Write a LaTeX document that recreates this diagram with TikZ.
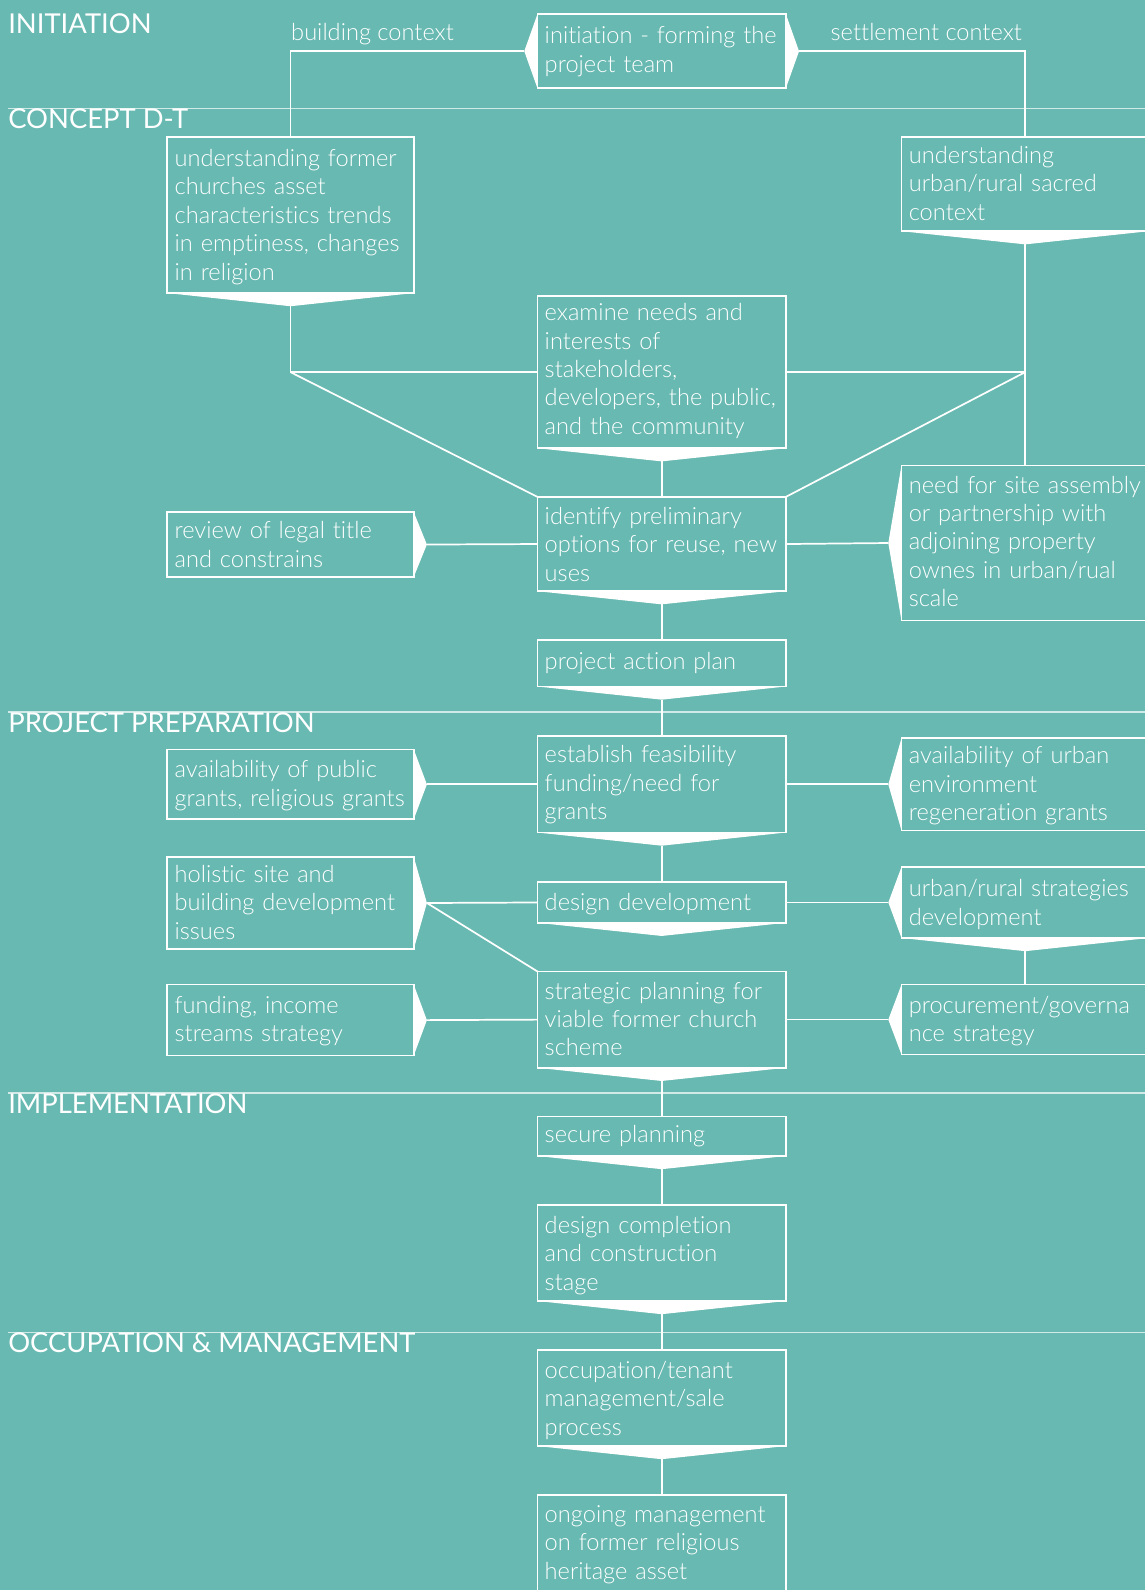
\documentclass[tikz,border=0pt]{standalone}
\usepackage{fontspec}
\setmainfont{Lato Light}[Ligatures={NoCommon,NoRequired,NoContextual}]
\newfontfamily\headfont{Lato}[Ligatures={NoCommon,NoRequired,NoContextual}]
\usetikzlibrary{calc}
\definecolor{bg}{RGB}{103,185,177}
\tikzset{
  stagebox/.style={draw=white, line width=1.7pt, outer sep=0pt, inner sep=0pt, anchor=north west},
  stagetext/.style={text=white, inner sep=0pt, anchor=north west, align=left, text width=260pt,
    font=\fontsize{23.3}{28}\selectfont},
  headtext/.style={text=white, inner sep=0pt, anchor=base west, font=\headfont\fontsize{27}{31}\selectfont},
  ctxlabel/.style={text=white, inner sep=0pt, anchor=base west, font=\fontsize{23.3}{28}\selectfont},
  conn/.style={draw=white, line width=1.7pt},
  sepline/.style={draw=white, draw opacity=0.7, line width=1.3pt}
}
% name, x, y, w, h, first baseline, text
\newcommand{\stage}[7]{%
  \node[stagebox, minimum width=#4pt, minimum height=#5pt] (#1) at (#2,#3) {};
  \node[stagetext] (#1-t) at (#2+7,#6-17.6) {\strut#7};
}
\newcommand{\tipS}[1]{\coordinate (#1-b) at ($(#1.south)+(0,13)$);
  \fill[white] (#1.south west) -- (#1-b) -- (#1.south east) -- cycle;}
\newcommand{\tipE}[1]{\coordinate (#1-r) at ($(#1.east)+(13,0)$);
  \fill[white] (#1.north east) -- (#1-r) -- (#1.south east) -- cycle;}
\newcommand{\tipW}[1]{\coordinate (#1-l) at ($(#1.west)+(-13,0)$);
  \fill[white] (#1.north west) -- (#1-l) -- (#1.south west) -- cycle;}
\begin{document}
\begin{tikzpicture}[x=1pt,y=-1pt]
\useasboundingbox (0,0) rectangle (1129,1568);
\clip (0,0) rectangle (1129,1568);
\fill[bg] (0,0) rectangle (1129,1568);

% section separators
\coordinate (s1a) at (8,107);   \coordinate (s1b) at (1129,107);
\coordinate (s2a) at (8,702);   \coordinate (s2b) at (1129,702);
\coordinate (s3a) at (8,1078);  \coordinate (s3b) at (1129,1078);
\coordinate (s4a) at (8,1314);  \coordinate (s4b) at (1129,1314);
\draw[sepline] (s1a) -- (s1b);
\draw[sepline] (s2a) -- (s2b);
\draw[sepline] (s3a) -- (s3b);
\draw[sepline] (s4a) -- (s4b);

% section titles
\node[headtext] (h1) at (8,33) {INITIATION};
\node[headtext] (h2) at (8,127) {CONCEPT D-T};
\node[headtext] (h3) at (8,722) {PROJECT PREPARATION};
\node[headtext] (h4) at (8,1098) {IMPLEMENTATION};
\node[headtext] (h5) at (8,1334) {OCCUPATION \& MANAGEMENT};

% stages
\stage{init}{530}{14}{245}{73}{41}{initiation - forming the\\project team}
\stage{uf}{165}{135}{243}{154}{162}{understanding former\\churches asset\\characteristics trends\\in emptiness, changes\\in religion}
\stage{uu}{889}{135}{244}{93}{159}{understanding\\urban/rural sacred\\context}
\stage{ex}{530}{292}{245}{150}{314}{examine needs and\\interests of\\stakeholders,\\developers, the public,\\and the community}
\stage{id}{530}{490}{245}{93}{515}{identify preliminary\\options for reuse, new\\uses}
\stage{rv}{165}{505}{243}{64}{529}{review of legal title\\and constrains}
\stage{ns}{889}{459}{244}{153}{484}{need for site assembly\\or partnership with\\adjoining property\\ownes in urban/rual\\scale}
\stage{pa}{530}{631}{245}{46}{658}{project action plan}
\stage{ef}{530}{726}{245}{95}{750}{establish feasibility\\funding/need for\\grants}
\stage{ap}{165}{739}{243}{69}{765}{availability of public\\grants, religious grants}
\stage{au}{889}{728}{244}{91}{751}{availability of urban\\environment\\regeneration grants}
\stage{dd}{530}{870}{245}{40}{896}{design development}
\stage{hs}{165}{845}{243}{91}{868}{holistic site and\\building development\\issues}
\stage{ur}{889}{855}{244}{70}{882}{urban/rural strategies\\development}
\stage{sp}{530}{958}{245}{95}{983}{strategic planning for\\viable former church\\scheme}
\stage{fi}{165}{971}{243}{70}{997}{funding, income\\streams strategy}
\stage{pg}{889}{971}{244}{69}{997}{procurement/governa\\nce strategy}
\stage{sc}{530}{1101}{245}{39}{1124}{secure planning}
\stage{dc}{530}{1188}{245}{95}{1214}{design completion\\and construction\\stage}
\stage{oc}{530}{1331}{245}{95}{1357}{occupation/tenant\\management/sale\\process}
\stage{og}{530}{1474}{245}{110}{1499}{ongoing management\\on former religious\\heritage asset}

% pointer wedges
\tipW{init} \tipE{init}
\tipS{uf} \tipS{uu} \tipS{ex} \tipS{id}
\tipE{rv} \tipW{ns}
\tipS{pa} \tipS{ef}
\tipE{ap} \tipW{au}
\tipS{dd} \tipE{hs} \tipW{ur} \tipS{ur}
\tipS{sp} \tipE{fi} \tipW{pg}
\tipS{sc} \tipS{dc} \tipS{oc}

% context labels
\node[ctxlabel] (lb) at (287,40) {building context};
\node[ctxlabel] (ls) at (819,40) {settlement context};

% connectors
\draw[conn] (init-l) -| (uf.north);
\draw[conn] (init-r) -| (uu.north);
\coordinate (jl) at (uf-b |- ex.west);
\coordinate (jr) at (ex.east -| ns.north);
\draw[conn] (uf-b) -- (jl) -- (ex.west);
\draw[conn] (ex.east) -- (jr);
\draw[conn] (uu-b) -- (ns.north);
\draw[conn] (jl) -- (id.north west);
\draw[conn] (jr) -- (id.north east);
\draw[conn] (ex-b) -- (id.north);
\draw[conn] (rv-r) -- (id.west);
\draw[conn] (id.east) -- (ns-l);
\draw[conn] (id-b) -- (pa.north);
\draw[conn] (pa-b) -- (ef.north);
\draw[conn] (ap-r) -- (ef.west);
\draw[conn] (ef.east) -- (au-l);
\draw[conn] (ef-b) -- (dd.north);
\draw[conn] (hs-r) -- (dd.west);
\draw[conn] (hs-r) -- (sp.north west);
\draw[conn] (dd.east) -- (ur-l);
\draw[conn] (ur-b) -- (pg.north);
\draw[conn] (fi-r) -- (sp.west);
\draw[conn] (sp.east) -- (pg-l);
\draw[conn] (sp-b) -- (sc.north);
\draw[conn] (sc-b) -- (dc.north);
\draw[conn] (dc-b) -- (oc.north);
\draw[conn] (oc-b) -- (og.north);
\end{tikzpicture}
\end{document}
